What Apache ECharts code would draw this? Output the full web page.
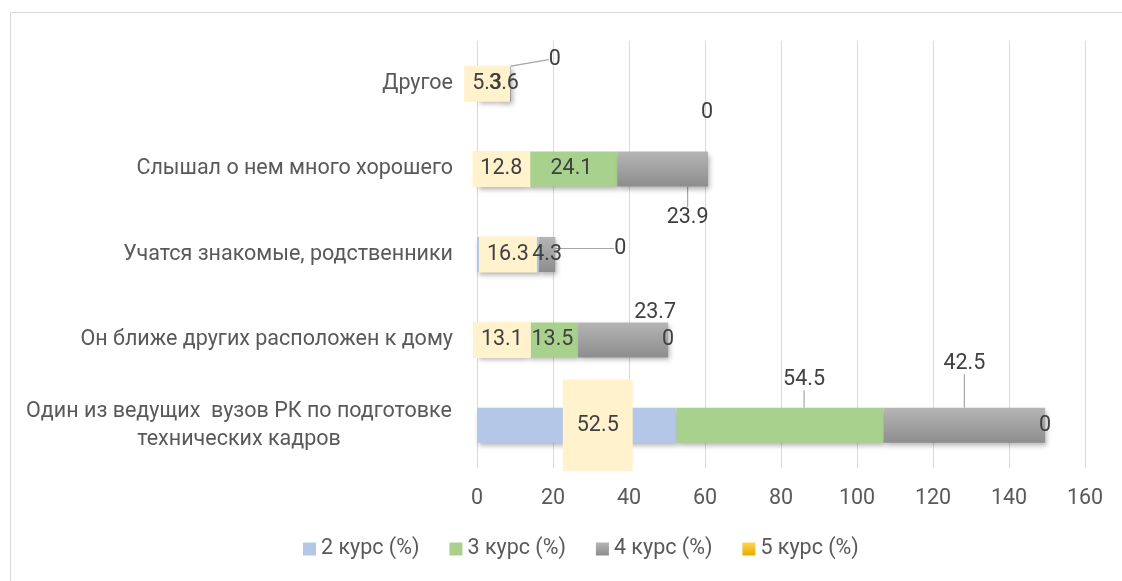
<!DOCTYPE html>
<html>
<head>
<meta charset="utf-8">
<script src="https://cdn.jsdelivr.net/npm/echarts@6/dist/echarts.min.js"></script>
<style>
  html, body { margin: 0; padding: 0; background: #fff; }
  #chart { width: 1122px; height: 581px; }
</style>
</head>
<body>
<div id="chart"></div>
<script>
// categories, bottom to top
const categories = [
  'Один из ведущих  вузов РК по подготовке\nтехнических кадров',
  'Он ближе других расположен к дому',
  'Учатся знакомые, родственники',
  'Слышал о нем много хорошего',
  'Другое'
];
const seriesNames = ['2 курс (%)', '3 курс (%)', '4 курс (%)', '5 курс (%)'];
const kurs2 = [52.5, 13.1, 16.3, 12.8, 5.3];
const kurs3 = [54.5, 13.5, null, 24.1, null];
const kurs4 = [42.5, 23.7, 4.3, 23.9, 3.6];
const kurs5 = [0, 0, 0, 0, 0];
const xTicks = [0, 20, 40, 60, 80, 100, 120, 140, 160];

// label moves (px) per series / category, [dx, dy, leader]
const labelMoves = {
  0: { 0: [21, 0, false] },
  1: { 0: [24, -46, true] },
  2: { 0: [0, -62, true], 1: [32, -27, false], 3: [25, 49, true] },
  3: { 2: [65, -6, true], 3: [-1, -56, false], 4: [44, -24, true] }
};

const FONT = 'Roboto';
const FS = 21.5;
const txt = '#404040';

const grayGrad = new echarts.graphic.LinearGradient(0, 0, 0, 1, [
  { offset: 0, color: '#b5b5b5' }, { offset: 1, color: '#8d8d8d' }
]);
const goldGrad = new echarts.graphic.LinearGradient(0, 0, 0, 1, [
  { offset: 0, color: '#ffd34d' }, { offset: 1, color: '#e6ad00' }
]);
const colors = ['#b4c7e7', '#a9d18e', grayGrad, goldGrad];
const shadow = { shadowColor: 'rgba(0,0,0,0.3)', shadowBlur: 5, shadowOffsetX: 2, shadowOffsetY: 3 };

function items(vals, si) {
  return vals.map((v, i) => {
    const m = labelMoves[si] && labelMoves[si][i];
    const it = { value: v };
    if (m && m[2]) it.labelLine = { show: true };
    if (si === 0 && i === 0) it.label = { padding: [35, 14] };
    return it;
  });
}

const allVals = [kurs2, kurs3, kurs4, kurs5];
const series = allVals.map((vals, si) => ({
  name: seriesNames[si],
  type: 'bar',
  stack: 'total',
  barWidth: 35,
  data: items(vals, si),
  itemStyle: Object.assign({ color: colors[si] }, si < 3 ? shadow : {}),
  label: {
    show: true,
    position: 'inside',
    color: txt,
    fontFamily: FONT,
    fontSize: FS,
    backgroundColor: si === 0 ? '#fff2cc' : 'transparent',
    padding: si === 0 ? [7, 8] : 0
  },
  labelLine: { show: false, lineStyle: { color: '#a6a6a6', width: 1.2 } },
  labelLayout: function (p) {
    const m = labelMoves[p.seriesIndex] && labelMoves[p.seriesIndex][p.dataIndex];
    return m ? { dx: m[0], dy: m[1] } : {};
  },
  emphasis: { disabled: true }
}));

const chart = echarts.init(document.getElementById('chart'), null, { renderer: 'canvas' });
chart.setOption({
  animation: false,
  textStyle: { fontFamily: FONT },
  grid: { left: 477, right: 37, top: 41, bottom: 113, containLabel: false },
  xAxis: {
    type: 'value',
    min: xTicks[0],
    max: xTicks[xTicks.length - 1],
    interval: 20,
    axisLine: { show: false },
    axisTick: { show: false },
    splitLine: { show: true, lineStyle: { color: '#d9d9d9' } },
    axisLabel: { color: '#595959', fontSize: FS, fontFamily: FONT, margin: 20 }
  },
  yAxis: {
    type: 'category',
    data: categories,
    axisLine: { show: false },
    axisTick: { show: false },
    axisLabel: {
      color: '#595959', fontSize: FS, fontFamily: FONT, margin: 24,
      formatter: function (v) {
        if (v.indexOf('\n') < 0) return v;
        return v.split('\n').map(s => '{c|' + s + '}').join('\n');
      },
      rich: { c: { width: 428, align: 'center', fontSize: FS, color: '#595959', fontFamily: FONT, lineHeight: 28 } }
    }
  },
  legend: {
    data: seriesNames,
    left: 298,
    bottom: 16,
    itemWidth: 13,
    itemHeight: 13,
    itemGap: 30,
    icon: 'rect',
    textStyle: { color: '#595959', fontSize: FS, fontFamily: FONT }
  },
  graphic: [{
    type: 'rect',
    shape: { x: 10.5, y: 12.5, width: 1200, height: 700 },
    style: { fill: 'none', stroke: '#d9d9d9', lineWidth: 1 },
    silent: true
  }],
  series: series
});
</script>
</body>
</html>
